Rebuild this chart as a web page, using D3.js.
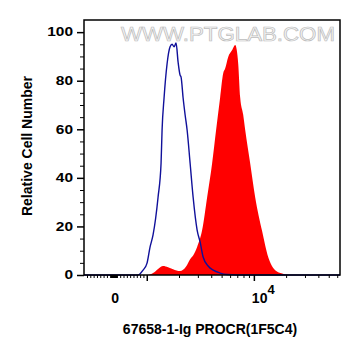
<!DOCTYPE html>
<html>
<head>
<meta charset="utf-8">
<script src="https://cdn.jsdelivr.net/npm/d3@7/dist/d3.min.js"></script>
<style>
  html, body { margin: 0; padding: 0; background: #fff; }
  svg { display: block; }
</style>
</head>
<body>
<svg id="chart" width="361" height="356"></svg>
<script>
// ---- data (fluorescence intensity, relative cell number) ----
const controlX = [-890, 738, 889, 1006, 1073, 1145, 1275, 1360, 1390, 1451, 1548, 1651, 1724, 1799, 1878, 1961, 2047, 2091, 2184, 2280, 2381, 2540, 2710, 2953, 3149, 3360, 3740, 4170, 4840, 5630, 6970, 63700];
const controlY = [0, 0, 2, 4.9, 11.5, 16.5, 32, 46, 59.7, 73, 87, 94, 95, 94, 95.5, 87.7, 82.3, 81.5, 73, 66, 59.7, 46, 32, 18.5, 13.6, 7.4, 3.7, 2, 0.8, 0.2, 0, 0];
const sampleX = [-890, 1028, 1145, 1275, 1420, 1581, 1760, 2047, 2329, 2540, 2710, 2953, 3290, 3662, 4077, 4440, 4840, 5168, 5393, 5751, 6270, 6695, 7143, 7456, 7950, 8300, 9236, 10284, 11950, 13600, 15810, 18400, 20900, 63700];
const sampleY = [0, 0, 0.8, 2.5, 3.7, 3.2, 2.4, 1.6, 3.5, 6.5, 8, 11.5, 18.5, 32, 46, 59.7, 73, 83, 85, 89.7, 92.6, 94.7, 87, 73, 66, 59.7, 46, 32, 18, 7.4, 2, 0.6, 0, 0];
const yTicks = [0, 20, 40, 60, 80, 100];
const yMinorTicks = [5, 10, 15, 25, 30, 35, 45, 50, 55, 65, 70, 75, 85, 90, 95];
const xMajorTicks = [1000, 10000];
const xMinorTicks = [-800, -700, -600, -500, -400, -300, -200, -100,
  -90, -80, -70, -60, -50, -40, -30, -20, -10, 0, 10, 20, 30, 40, 50, 60, 70, 80, 90,
  100, 200, 300, 400, 500, 600, 700, 800, 900,
  2000, 3000, 4000, 5000, 6000, 7000, 8000, 9000,
  20000, 30000, 40000, 50000, 60000];
const xDomain = [-890, 63700];
const yDomain = [0, 105];
const xTitle = "67658-1-Ig PROCR(1F5C4)";
const yTitle = "Relative Cell Number";
const watermark = "WWW.PTGLAB.COM";

// biexponential-like transform: linear near zero, log above 10^3
const LIN = 1000, LW = 0.31;
function xT(v) {
  const a = Math.abs(v), s = Math.sign(v);
  return a <= LIN ? s * a / LIN * LW : s * (LW + Math.log10(a / LIN));
}

const svg = d3.select("#chart");
const mLeft = 84, mRight = 340, mTop = 20, mBottom = 275;
const x = d3.scaleLinear().domain(xDomain.map(xT)).range([mLeft, mRight]);
const y = d3.scaleLinear().domain(yDomain).range([mBottom, mTop]);
const fx = v => x(xT(v));

// watermark
svg.append("text")
  .attr("x", 121).attr("y", 41)
  .attr("textLength", 214).attr("lengthAdjust", "spacingAndGlyphs")
  .attr("font-family", "Liberation Sans, Arial, sans-serif")
  .attr("font-size", 19.5)
  .attr("fill", "#f6f6f6").attr("stroke", "#bdbdbd").attr("stroke-width", 0.7)
  .text(watermark);

const sample = sampleX.map((v, i) => [v, sampleY[i]]);
const control = controlX.map((v, i) => [v, controlY[i]]);

svg.append("path")
  .datum(sample)
  .attr("fill", "#ff0000")
  .attr("d", d3.area().x(d => fx(d[0])).y0(y(0)).y1(d => y(d[1])).curve(d3.curveMonotoneX));

svg.append("path")
  .datum(control)
  .attr("fill", "none")
  .attr("stroke", "#10109a")
  .attr("stroke-width", 1.4)
  .attr("d", d3.line().x(d => fx(d[0])).y(d => y(d[1])).curve(d3.curveMonotoneX));

// frame
svg.append("rect")
  .attr("x", mLeft).attr("y", mTop).attr("width", mRight - mLeft).attr("height", mBottom - mTop)
  .attr("fill", "none").attr("stroke", "#000").attr("stroke-width", 1.5);

// y axis
const yAxis = svg.append("g").attr("transform", `translate(${mLeft},0)`)
  .call(d3.axisLeft(y).tickValues(yTicks).tickSize(7).tickFormat(d3.format("d")));
yAxis.select(".domain").remove();
yAxis.selectAll(".tick line").attr("stroke-width", 1.5);
yAxis.selectAll(".tick text")
  .attr("font-family", "Liberation Sans, Arial, sans-serif")
  .attr("font-weight", "bold").attr("font-size", 12).attr("fill", "#000")
  .attr("x", -11)
  .attr("textLength", d => String(d).length * 8.6)
  .attr("lengthAdjust", "spacingAndGlyphs");
const yMinor = svg.append("g").attr("transform", `translate(${mLeft},0)`)
  .call(d3.axisLeft(y).tickValues(yMinorTicks).tickSize(4).tickFormat(""));
yMinor.select(".domain").remove();

// x axis
const xMinor = svg.append("g").attr("transform", `translate(0,${mBottom})`)
  .call(d3.axisBottom(x).tickValues(xMinorTicks.map(xT)).tickSize(3).tickFormat(""));
xMinor.select(".domain").remove();
const xMajor = svg.append("g").attr("transform", `translate(0,${mBottom})`)
  .call(d3.axisBottom(x).tickValues(xMajorTicks.map(xT)).tickSize(6).tickFormat(""));
xMajor.select(".domain").remove();
xMajor.selectAll(".tick line").attr("stroke-width", 1.5);

const lab = svg.append("g")
  .attr("font-family", "Liberation Sans, Arial, sans-serif")
  .attr("font-weight", "bold").attr("fill", "#000");
lab.append("text").attr("x", fx(0) + 1.5).attr("y", 303).attr("text-anchor", "middle")
  .attr("font-size", 14).text("0");
const t4 = lab.append("text").attr("x", fx(10000) - 2).attr("y", 303).attr("font-size", 14);
t4.append("tspan").text("10");
t4.append("tspan").attr("dy", -9).attr("font-size", 13).text("4");

lab.append("text").attr("x", 210).attr("y", 334).attr("text-anchor", "middle")
  .attr("font-size", 14).text(xTitle);
lab.append("text")
  .attr("transform", "translate(32,146) rotate(-90)")
  .attr("text-anchor", "middle").attr("font-size", 14).text(yTitle);
</script>
</body>
</html>
